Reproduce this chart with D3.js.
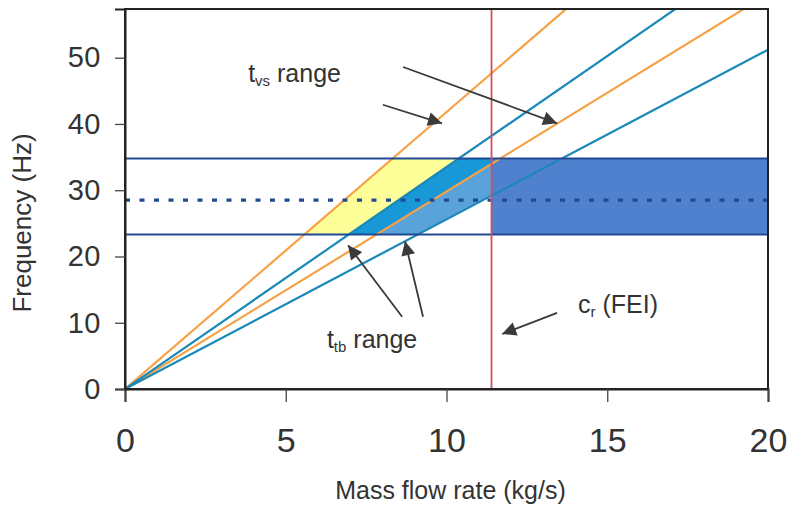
<!DOCTYPE html>
<html>
<head>
<meta charset="utf-8">
<script src="https://cdn.jsdelivr.net/npm/d3@7"></script>
<style>
  html, body { margin: 0; padding: 0; background: #fff; }
  svg text { font-family: "Liberation Sans", Arial, sans-serif; fill: #333; }
</style>
</head>
<body>
<svg id="chart" width="789" height="508"></svg>
<script>
// Axis ticks
const xTicks = [0, 5, 10, 15, 20];
const yTicks = [0, 10, 20, 30, 40, 50];

// Operating lines through the origin: frequency = slope * mass flow
const tvsSlopes = [4.18, 2.98];   // orange pair (t_vs range)
const ttbSlopes = [3.35, 2.56];   // blue pair (t_tb range)

// Frequency band (Hz): lower, nominal, upper
const bandLow = 23.3;
const bandMid = 28.5;
const bandHigh = 34.8;

// Critical mass flow c_r (FEI), kg/s
const critFlow = 11.4;

// Annotation texts and arrows (data units)
const labels = [
  { main: "t", sub: "vs", rest: " range", x: 3.83, y: 46.3 },
  { main: "t", sub: "tb", rest: " range", x: 6.28, y: 6.2 },
  { main: "c", sub: "r", rest: " (FEI)", x: 14.09, y: 11.5 }
];
const arrows = [
  { x1: 8.02, y1: 42.9, x2: 9.86, y2: 40.1 },
  { x1: 8.65, y1: 48.6, x2: 13.44, y2: 40.1 },
  { x1: 8.62, y1: 10.9, x2: 6.94, y2: 21.7 },
  { x1: 9.27, y1: 10.9, x2: 8.71, y2: 22.3 },
  { x1: 13.44, y1: 11.5, x2: 11.73, y2: 8.3 }
];

const svg = d3.select("#chart");
const W = 789, H = 508;
const m = { left: 125, right: 21, top: 9, bottom: 119 };
const iw = W - m.left - m.right, ih = H - m.top - m.bottom;

const x = d3.scaleLinear().domain([0, 20]).range([0, iw]);
const y = d3.scaleLinear().domain([0, 57.35]).range([ih, 0]);

const defs = svg.append("defs");
defs.append("clipPath").attr("id", "plot-clip")
  .append("rect").attr("width", iw).attr("height", ih);
defs.append("marker").attr("id", "head")
  .attr("viewBox", "0 0 10 10").attr("refX", 10).attr("refY", 5)
  .attr("markerWidth", 15).attr("markerHeight", 14)
  .attr("markerUnits", "userSpaceOnUse").attr("orient", "auto")
  .append("path").attr("d", "M0,0 L10,5 L0,10 Z").attr("fill", "#3a3a3a");

const g = svg.append("g").attr("transform", `translate(${m.left},${m.top})`);
const plot = g.append("g").attr("clip-path", "url(#plot-clip)");

const line = d3.line().x(d => x(d[0])).y(d => y(d[1]));
const [sO1, sO2] = tvsSlopes;
const [sB1, sB2] = ttbSlopes;

// Shaded regions of the band
const regions = [
  { fill: "#ffff99", pts: [[bandLow / sO1, bandLow], [bandHigh / sO1, bandHigh], [bandHigh / sB1, bandHigh], [bandLow / sB1, bandLow]] },
  { fill: "#1898d6", pts: [[bandLow / sB1, bandLow], [bandHigh / sB1, bandHigh], [critFlow, bandHigh], [critFlow, critFlow * sO2], [bandLow / sO2, bandLow]] },
  { fill: "#5aa2da", pts: [[bandLow / sO2, bandLow], [critFlow, critFlow * sO2], [critFlow, critFlow * sB2], [bandLow / sB2, bandLow]] },
  { fill: "#5081cf", pts: [[critFlow, bandLow], [critFlow, bandHigh], [20, bandHigh], [20, bandLow]] }
];
plot.selectAll("path.region").data(regions).join("path")
  .attr("class", "region")
  .attr("d", d => line(d.pts) + "Z")
  .attr("fill", d => d.fill);

// Diagonal operating lines
const diag = [
  ...tvsSlopes.map(s => ({ s, c: "#f7a145" })),
  ...ttbSlopes.map(s => ({ s, c: "#1a88b8" }))
];
plot.selectAll("path.diag").data(diag).join("path")
  .attr("class", "diag")
  .attr("d", d => line([[0, 0], [20, 20 * d.s]]))
  .attr("fill", "none").attr("stroke", d => d.c).attr("stroke-width", 2.2);

// Band limits
plot.selectAll("line.band").data([bandLow, bandHigh]).join("line")
  .attr("class", "band")
  .attr("x1", x(0)).attr("x2", x(20))
  .attr("y1", d => y(d)).attr("y2", d => y(d))
  .attr("stroke", "#1f4a92").attr("stroke-width", 2);

plot.append("line")
  .attr("x1", x(0)).attr("x2", x(20))
  .attr("y1", y(bandMid)).attr("y2", y(bandMid))
  .attr("stroke", "#1f4a92").attr("stroke-width", 3.2)
  .attr("stroke-dasharray", "5,9.5");

// Critical flow line
plot.append("line")
  .attr("x1", x(critFlow)).attr("x2", x(critFlow))
  .attr("y1", y(0)).attr("y2", 0)
  .attr("stroke", "#d0505e").attr("stroke-width", 1.8);

// Frame
g.append("rect").attr("width", iw).attr("height", ih)
  .attr("fill", "none").attr("stroke", "#222").attr("stroke-width", 2);

// Axes
const xAxis = g.append("g").attr("transform", `translate(0,${ih})`)
  .call(d3.axisBottom(x).tickValues(xTicks).tickSize(13).tickPadding(26));
const yAxis = g.append("g")
  .call(d3.axisLeft(y).tickValues(yTicks).tickSize(10).tickPadding(14));
[xAxis, yAxis].forEach(a => {
  a.select(".domain").attr("stroke", "#222").attr("stroke-width", 2);
  a.selectAll(".tick line").attr("stroke", "#444").attr("stroke-width", 1.3);
});
xAxis.selectAll("text").attr("font-size", 34).attr("fill", "#333");
yAxis.selectAll("text").attr("font-size", 29).attr("fill", "#333")
  .attr("letter-spacing", 0.5);

// Axis titles
svg.append("text")
  .attr("x", m.left + x(10) + 4).attr("y", 499)
  .attr("text-anchor", "middle").attr("font-size", 25)
  .text("Mass flow rate (kg/s)");
svg.append("text")
  .attr("transform", "translate(31,223) rotate(-90)")
  .attr("text-anchor", "middle").attr("font-size", 26)
  .text("Frequency (Hz)");

// Annotations
const ann = g.append("g");
ann.selectAll("line.arrow").data(arrows).join("line")
  .attr("class", "arrow")
  .attr("x1", d => x(d.x1)).attr("y1", d => y(d.y1))
  .attr("x2", d => x(d.x2)).attr("y2", d => y(d.y2))
  .attr("stroke", "#3a3a3a").attr("stroke-width", 1.8)
  .attr("marker-end", "url(#head)");

const lt = ann.selectAll("text.lab").data(labels).join("text")
  .attr("class", "lab")
  .attr("x", d => x(d.x)).attr("y", d => y(d.y))
  .attr("font-size", 25);
lt.append("tspan").text(d => d.main);
lt.append("tspan").attr("font-size", 15).attr("dy", 4).text(d => d.sub);
lt.append("tspan").attr("dy", -4).text(d => d.rest);
</script>
</body>
</html>
